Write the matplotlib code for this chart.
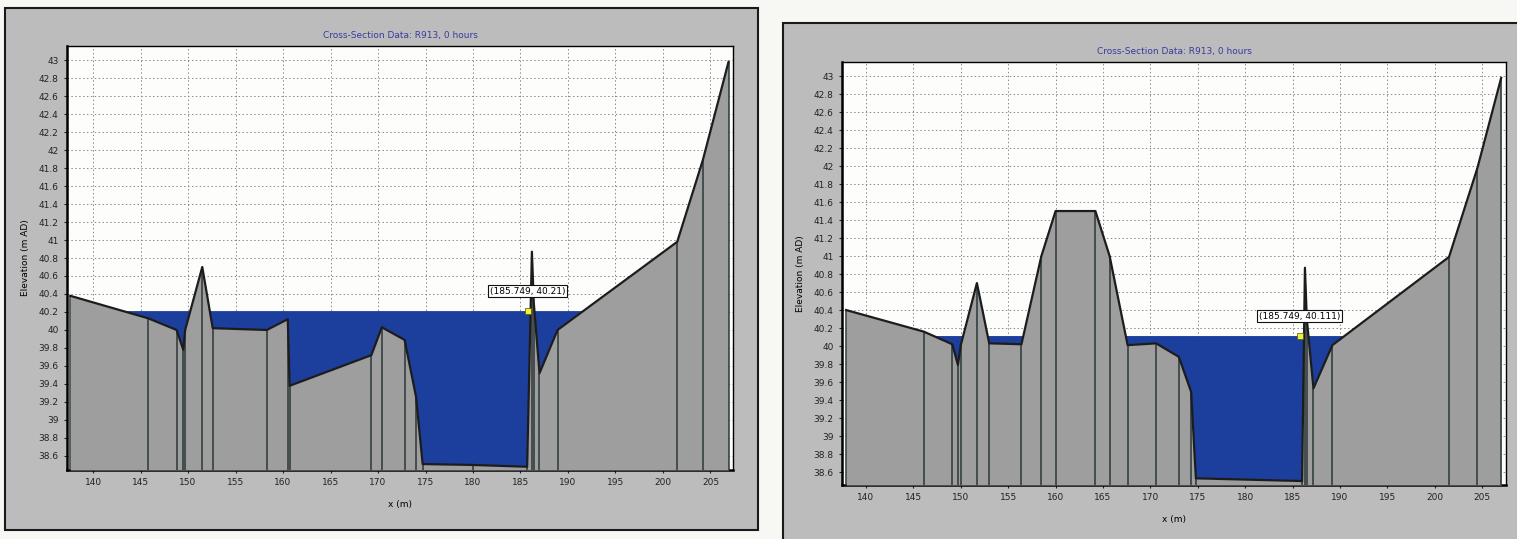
import numpy as np
import matplotlib
matplotlib.use("Agg")
import matplotlib.pyplot as plt
from matplotlib.patches import Rectangle

# ground profiles
left_x = [137.6, 145.8, 148.8, 149.5, 149.7, 151.5, 152.6, 158.3, 160.5, 160.7, 169.3,
          170.4, 172.8, 174.0, 174.7, 180.0, 185.7, 186.2, 186.4, 187.0, 188.9, 201.5,
          204.2, 206.9]
left_z = [40.38, 40.13, 40.0, 39.78, 40.0, 40.7, 40.02, 40.0, 40.12, 39.38, 39.72,
          40.03, 39.89, 39.26, 38.51, 38.5, 38.48, 40.87, 40.3, 39.52, 40.0, 40.98,
          41.89, 42.98]
left_level = 40.21

right_x = [137.9, 146.1, 149.1, 149.7, 150.0, 151.7, 153.0, 156.4, 158.5, 160.0, 164.2,
           165.7, 167.6, 170.6, 173.0, 174.3, 174.8, 186.0, 186.3, 186.5, 187.2, 189.2,
           201.5, 204.5, 207.0]
right_z = [40.4, 40.16, 40.02, 39.79, 40.01, 40.7, 40.03, 40.02, 41.0, 41.5, 41.5,
           41.0, 40.01, 40.03, 39.88, 39.49, 38.53, 38.5, 40.87, 40.3, 39.53, 40.01,
           40.99, 41.98, 42.98]
right_level = 40.111

probe_x = 185.749
title = "Cross-Section Data: R913, 0 hours"
xticks = [140, 145, 150, 155, 160, 165, 170, 175, 180, 185, 190, 195, 200, 205]
yticks = np.round(np.arange(38.6, 43.01, 0.2), 1)

W, H = 1517, 539
fig = plt.figure(figsize=(W / 100, H / 100), dpi=100)
fig.patch.set_facecolor("#f7f7f4")

def px(x0, y0, x1, y1):
    # pixel box (top-down) -> figure fraction rect
    return [x0 / W, (H - y1) / H, (x1 - x0) / W, (y1 - y0) / H]

# grey window panels
for (x0, y0, x1, y1) in [(5, 8, 758, 530), (783, 23, 1530, 545)]:
    r = px(x0, y0, x1, y1)
    fig.patches.append(Rectangle((r[0], r[1]), r[2], r[3], transform=fig.transFigure,
                                 facecolor="#bcbcbc", edgecolor="#1a1a1a", lw=1.5, zorder=-5))

GROUND = "#9e9e9e"
WATER = "#1c3f9e"

def draw(ax, xs, zs, level, xlim, ylim, label):
    xs = np.array(xs)
    zs = np.array(zs)
    ax.set_facecolor("#fdfdfb")
    ax.set_xlim(xlim)
    ax.set_ylim(ylim)
    ax.set_xticks(xticks)
    ax.set_yticks(yticks)
    ax.set_yticklabels(["%g" % v for v in yticks])
    ax.grid(True, linestyle=(0, (1.5, 2.5)), color="#8a8a8a", lw=0.7)
    ax.set_axisbelow(True)
    ax.fill_between(xs, zs, level, where=zs < level, interpolate=True,
                    color=WATER, lw=0, zorder=2)
    ax.fill_between(xs, zs, ylim[0], color=GROUND, lw=0, zorder=3)
    ax.vlines(xs, ylim[0], zs, color="#2b3838", lw=1.1, zorder=4)
    ax.plot(xs, zs, color="#1c1c1c", lw=1.6, zorder=5)
    ax.plot([probe_x], [level], marker="s", ms=5, mfc="#f0f040", mec="#555500",
            mew=0.5, zorder=6)
    ax.annotate("(%g, %s)" % (probe_x, label), (probe_x, level), xytext=(0, 20),
                textcoords="offset pixels", ha="center", va="center", fontsize=6.5,
                bbox=dict(boxstyle="square,pad=0.2", fc="white", ec="#111111", lw=0.8),
                zorder=7)
    ax.set_title(title, fontsize=6.5, color="#3a3aa0", pad=6)
    ax.set_xlabel("x (m)", fontsize=6.5, labelpad=9)
    ax.set_ylabel("Elevation (m AD)", fontsize=6.5, labelpad=6)
    ax.tick_params(labelsize=6.5, length=2, pad=4, colors="#222222")
    for s in ["left", "bottom"]:
        ax.spines[s].set_linewidth(1.8)
    for s in ["top", "right"]:
        ax.spines[s].set_linewidth(1.0)

ax1 = fig.add_axes(px(67, 46, 733, 470))
draw(ax1, left_x, left_z, left_level, (137.26, 207.37), (38.444, 43.156), "40.21")

ax2 = fig.add_axes(px(842, 62, 1506, 485))
draw(ax2, right_x, right_z, right_level, (137.47, 207.51), (38.456, 43.156), "40.111")

fig.savefig("out.png", dpi=100, facecolor=fig.get_facecolor())
